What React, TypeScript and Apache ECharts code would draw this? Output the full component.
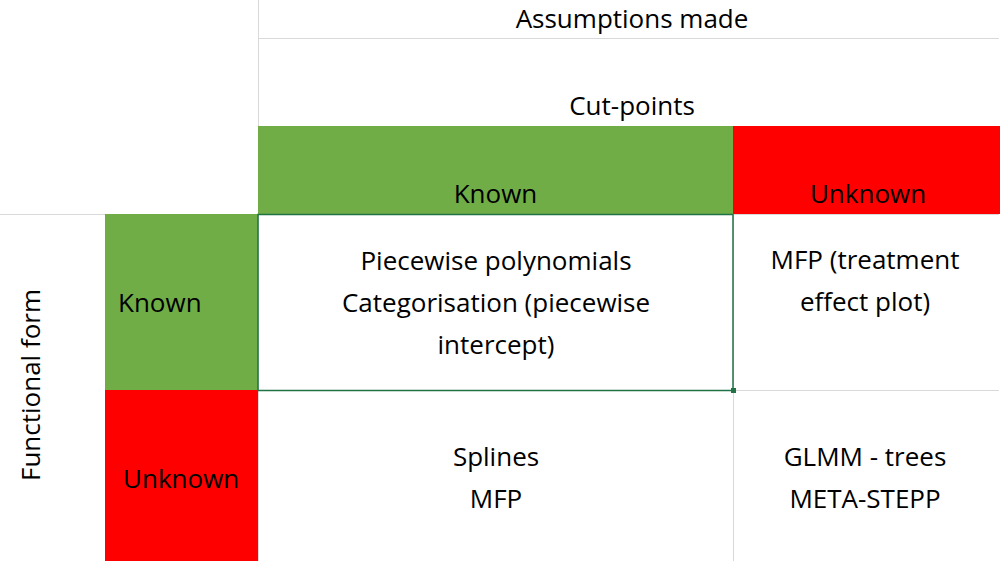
import React, { useEffect, useRef } from "react";
import * as echarts from "echarts";

const topTitle = "Assumptions made";
const colGroup = "Cut-points";
const colHeaders = ["Known", "Unknown"];
const rowGroup = "Functional form";
const rowHeaders = ["Known", "Unknown"];
const cells = [
  ["Piecewise polynomials\nCategorisation (piecewise\nintercept)", "MFP (treatment\neffect plot)"],
  ["Splines\nMFP", "GLMM - trees\nMETA-STEPP"],
];
const headerColors = ["#70ad47", "#ff0000"];

export default function App() {
  const ref = useRef<HTMLDivElement>(null);
  useEffect(() => {
    const chart = echarts.init(ref.current!, null, { renderer: "svg" });
    const font = "'Open Sans', 'Noto Sans', sans-serif";
    const fs = 26;
    const xs = [258, 733, 999];
    const rowY = [[214, 390], [390, 561]];
    const line = "#d9d9d9";
    const g: any[] = [];
    const L = (x1: number, y1: number, x2: number, y2: number) =>
      g.push({ type: "line", shape: { x1, y1, x2, y2 }, style: { stroke: line, lineWidth: 1 } });
    L(258, 38.5, 999, 38.5);
    L(0, 214.5, 999, 214.5);
    L(258, 390.5, 999, 390.5);
    L(258.5, 0, 258.5, 561);
    L(733.5, 214, 733.5, 561);
    const T = (x: number, y: number, text: string, align = "center", extra: any = {}) =>
      g.push({
        type: "text", x, y, ...extra,
        style: { text, fill: "#000", font: `${fs}px ${font}`, textAlign: align, textVerticalAlign: "middle", lineHeight: 42 },
      });
    T(632, 18, topTitle);
    T(632, 105, colGroup);
    colHeaders.forEach((h, i) => {
      g.push({ type: "rect", shape: { x: xs[i], y: 126, width: xs[i + 1] - xs[i] + (i === 1 ? 1 : 0), height: 88 }, style: { fill: headerColors[i] } });
      T((xs[i] + xs[i + 1]) / 2 + (i === 1 ? 2 : 0), 193, h);
    });
    rowHeaders.forEach((h, i) => {
      const [y0, y1] = rowY[i];
      g.push({ type: "rect", shape: { x: 105, y: y0, width: 153, height: y1 - y0 }, style: { fill: headerColors[i] } });
      T(i === 0 ? 118 : 123, i === 0 ? 302 : 478, h, "left");
    });
    T(30, 385, rowGroup, "center", { rotation: Math.PI / 2 });
    const cx = [496, 865];
    const cy = [[302, 280], [477, 477]];
    cells.forEach((row, r) => row.forEach((c, k) => T(cx[k], cy[r][k], c)));
    g.push({ type: "rect", shape: { x: 258, y: 214.5, width: 475, height: 176 }, style: { fill: "none", stroke: "#217346", lineWidth: 1.5 } });
    g.push({ type: "rect", shape: { x: 731, y: 388, width: 5, height: 5 }, style: { fill: "#217346" } });
    chart.setOption({ animation: false, backgroundColor: "#fff", graphic: g });
    return () => chart.dispose();
  }, []);
  return <div ref={ref} style={{ position: "fixed", left: 0, top: 0, width: 1000, height: 561 }} />;
}
